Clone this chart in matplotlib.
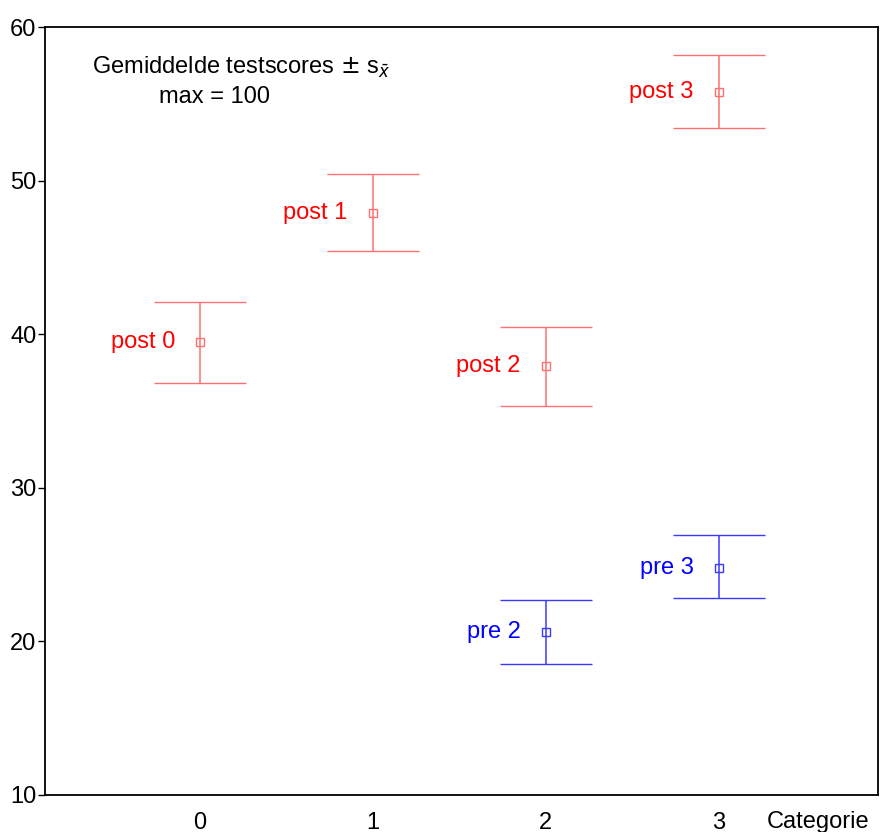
import numpy as np
import matplotlib.pyplot as plt

plt.rcParams['font.family'] = ['Liberation Sans', 'DejaVu Sans']

# post-test scores per category
post_cat = [0, 1, 2, 3]
post_mean = [39.5, 47.9, 37.9, 55.8]
post_low = [36.8, 45.4, 35.3, 53.4]
post_high = [42.1, 50.4, 40.5, 58.2]
post_lab = ['post 0', 'post 1', 'post 2', 'post 3']

# pre-test scores
pre_cat = [2, 3]
pre_mean = [20.6, 24.8]
pre_low = [18.5, 22.8]
pre_high = [22.7, 26.9]
pre_lab = ['pre 2', 'pre 3']

fig = plt.figure(figsize=(8.81, 8.32), dpi=100)
ax = fig.add_axes([0.051, 0.0445, 0.9455, 0.923])

def draw(cat, mean, low, high, labels, col, tcol):
    mean = np.array(mean)
    err = [mean - np.array(low), np.array(high) - mean]
    ax.errorbar(cat, mean, yerr=err, fmt='s', mfc='none', mec=col, ms=6,
                mew=1, ecolor=col, elinewidth=1.1, capsize=33, capthick=1.1)
    for x, y, t in zip(cat, mean, labels):
        ax.annotate(t, (x, y), xytext=(-18, 0), textcoords='offset points',
                    ha='right', va='center', color=tcol, fontsize=17)

draw(post_cat, post_mean, post_low, post_high, post_lab, '#ff7070', '#ff0000')
draw(pre_cat, pre_mean, pre_low, pre_high, pre_lab, '#3a3aff', '#0000ff')

ax.set_xlim(-0.896, 3.92)
ax.set_ylim(10, 60)
ax.set_xticks(post_cat)
ax.set_yticks([10, 20, 30, 40, 50, 60])
ax.tick_params(axis='x', length=0, pad=12, labelsize=17)
ax.tick_params(axis='y', length=5, width=1, pad=1, labelsize=17)
for s in ax.spines.values():
    s.set_linewidth(1.3)

ax.text(0.928, -0.035, 'Categorie', transform=ax.transAxes, ha='center',
        va='center', fontsize=17)
ax.text(0.056, 0.947, r'Gemiddelde testscores $\pm$ s$_{\bar{x}}$',
        transform=ax.transAxes, ha='left', va='center', fontsize=17)
ax.text(0.204, 0.909, 'max = 100', transform=ax.transAxes, ha='center',
        va='center', fontsize=17)

fig.savefig('out.png', dpi=100)
